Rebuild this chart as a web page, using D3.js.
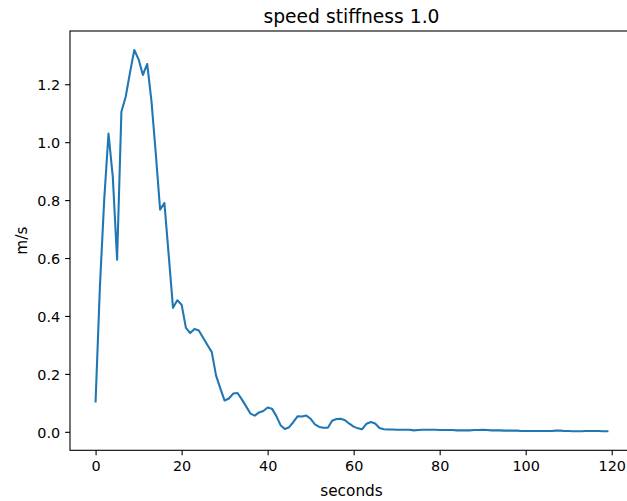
<!DOCTYPE html>
<html lang="en">
<head>
    <meta charset="UTF-8">
    <title>speed stiffness 1.0</title>
    <script src="https://d3js.org/d3.v7.min.js"></script>
    <style>
        body {
            margin: 0;
            background: #ffffff;
            font-family: "DejaVu Sans", sans-serif;
        }
        svg text {
            fill: #000000;
        }
    </style>
</head>
<body>
    <div id="chart"></div>

    <script>
        // Dati: velocita' (m/s) campionata ogni secondo
        const seconds = d3.range(0, 120);
        const speed = [
            0.105, 0.50, 0.80, 1.03, 0.88, 0.594, 1.105, 1.157, 1.24, 1.318,
            1.286, 1.232, 1.27, 1.14, 0.96, 0.767, 0.79, 0.61, 0.428, 0.454,
            0.439, 0.359, 0.341, 0.355, 0.350, 0.325, 0.300, 0.276, 0.195, 0.150,
            0.108, 0.115, 0.132, 0.134, 0.112, 0.088, 0.063, 0.056, 0.067, 0.072,
            0.084, 0.080, 0.055, 0.023, 0.010, 0.016, 0.034, 0.054, 0.053, 0.056,
            0.045, 0.026, 0.017, 0.014, 0.014, 0.038, 0.044, 0.045, 0.040, 0.028,
            0.018, 0.012, 0.009, 0.028, 0.034, 0.029, 0.013, 0.009, 0.008, 0.008,
            0.007, 0.007, 0.007, 0.007, 0.005, 0.006, 0.007, 0.007, 0.007, 0.007,
            0.006, 0.006, 0.006, 0.006, 0.005, 0.005, 0.005, 0.005, 0.006, 0.006,
            0.007, 0.006, 0.005, 0.005, 0.005, 0.004, 0.004, 0.004, 0.004, 0.003,
            0.003, 0.003, 0.003, 0.003, 0.003, 0.003, 0.003, 0.004, 0.004, 0.003,
            0.003, 0.002, 0.002, 0.002, 0.003, 0.003, 0.003, 0.003, 0.002, 0.002
        ];
        const xTicks = [0, 20, 40, 60, 80, 100, 120];
        const yTicks = [0.0, 0.2, 0.4, 0.6, 0.8, 1.0, 1.2];

        const width = 627;
        const height = 501;
        const plotLeft = 70, plotRight = 633, plotTop = 31, plotBottom = 450.3;

        const svg = d3.select("#chart")
            .append("svg")
            .attr("width", width)
            .attr("height", height)
            .style("display", "block");

        // Scale con margine del 5% come matplotlib
        const xMin = d3.min(seconds), xMax = d3.max(seconds);
        const xPad = (xMax - xMin) * 0.05;
        const x = d3.scaleLinear()
            .domain([xMin - xPad, xMax + xPad])
            .range([plotLeft, plotRight]);

        const yMin = d3.min(speed), yMax = d3.max(speed);
        const yPad = (yMax - yMin) * 0.05;
        const y = d3.scaleLinear()
            .domain([yMin - yPad, yMax + yPad])
            .range([plotBottom, plotTop]);

        // Assi
        const xAxis = svg.append("g")
            .attr("transform", `translate(0,${plotBottom})`)
            .call(d3.axisBottom(x)
                .tickValues(xTicks)
                .tickFormat(d3.format("d"))
                .tickSizeInner(4.9)
                .tickSizeOuter(0)
                .tickPadding(4.9));

        const yAxis = svg.append("g")
            .attr("transform", `translate(${plotLeft},0)`)
            .call(d3.axisLeft(y)
                .tickValues(yTicks)
                .tickFormat(d3.format(".1f"))
                .tickSizeInner(4.9)
                .tickSizeOuter(0)
                .tickPadding(4.9));

        [xAxis, yAxis].forEach(g => {
            g.select(".domain").remove();
            g.selectAll(".tick line")
                .attr("stroke", "#000")
                .attr("stroke-width", 1.1);
            g.selectAll(".tick text")
                .attr("font-family", "DejaVu Sans, sans-serif")
                .attr("font-size", "14.4px")
                .attr("fill", "#000");
        });
        xAxis.selectAll(".tick text").attr("dy", "0.76em");
        yAxis.selectAll(".tick text").attr("dy", "0.36em");

        // Linea
        const line = d3.line()
            .x((d, i) => x(seconds[i]))
            .y(d => y(d));

        svg.append("path")
            .datum(speed)
            .attr("fill", "none")
            .attr("stroke", "#1f77b4")
            .attr("stroke-width", 2.08)
            .attr("stroke-linejoin", "round")
            .attr("stroke-linecap", "square")
            .attr("d", line);

        // Bordo del grafico
        svg.append("rect")
            .attr("x", plotLeft)
            .attr("y", plotTop)
            .attr("width", plotRight - plotLeft)
            .attr("height", plotBottom - plotTop)
            .attr("fill", "none")
            .attr("stroke", "#000")
            .attr("stroke-width", 1.1);

        // Titolo ed etichette
        const cx = (plotLeft + plotRight) / 2;
        svg.append("text")
            .attr("x", cx)
            .attr("y", 23)
            .attr("text-anchor", "middle")
            .attr("font-size", "18.7px")
            .text("speed stiffness 1.0");

        svg.append("text")
            .attr("x", cx)
            .attr("y", 496)
            .attr("text-anchor", "middle")
            .attr("font-size", "15.3px")
            .text("seconds");

        svg.append("text")
            .attr("transform", `translate(26.5,${(plotTop + plotBottom) / 2}) rotate(-90)`)
            .attr("text-anchor", "middle")
            .attr("font-size", "15.3px")
            .text("m/s");
    </script>
</body>
</html>
